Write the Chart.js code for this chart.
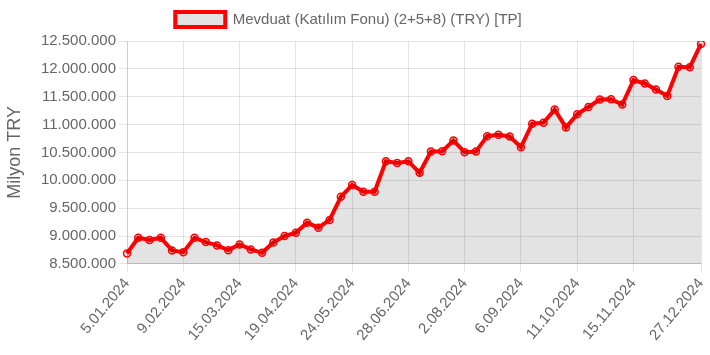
<!DOCTYPE html>
<html>
<head>
<meta charset="utf-8">
<script src="https://cdn.jsdelivr.net/npm/chart.js@4/dist/chart.umd.min.js"></script>
<style>
  html, body { margin: 0; padding: 0; background: #fff; }
  #wrap { width: 710px; height: 355px; }
</style>
</head>
<body>
<div id="wrap"><canvas id="linechart"></canvas></div>
<script>
const labels = [
    '5.01.2024', '12.01.2024', '19.01.2024', '26.01.2024',
    '2.02.2024', '9.02.2024', '16.02.2024', '23.02.2024',
    '1.03.2024', '8.03.2024', '15.03.2024', '22.03.2024', '29.03.2024',
    '5.04.2024', '12.04.2024', '19.04.2024', '26.04.2024',
    '3.05.2024', '10.05.2024', '17.05.2024', '24.05.2024', '31.05.2024',
    '7.06.2024', '14.06.2024', '21.06.2024', '28.06.2024',
    '5.07.2024', '12.07.2024', '19.07.2024', '26.07.2024',
    '2.08.2024', '9.08.2024', '16.08.2024', '23.08.2024', '30.08.2024',
    '6.09.2024', '13.09.2024', '20.09.2024', '27.09.2024',
    '4.10.2024', '11.10.2024', '18.10.2024', '25.10.2024',
    '1.11.2024', '8.11.2024', '15.11.2024', '22.11.2024', '29.11.2024',
    '6.12.2024', '13.12.2024', '20.12.2024', '27.12.2024'
];

const data = [
    8688000, 8969000, 8928000, 8969000, 8742000, 8711000, 8969000, 8892000,
    8832000, 8747000, 8850000, 8760000, 8699000, 8885000, 9000000, 9060000,
    9240000, 9150000, 9289000, 9704000, 9915000, 9794000, 9794000, 10341000,
    10312000, 10341000, 10135000, 10516000, 10520000, 10715000, 10504000, 10516000,
    10792000, 10818000, 10787000, 10594000, 11016000, 11034000, 11269000, 10950000,
    11184000, 11316000, 11450000, 11455000, 11359000, 11798000, 11738000, 11630000,
    11515000, 12038000, 12027000, 12448000
];

const seriesName = 'Mevduat (Katılım Fonu) (2+5+8) (TRY) [TP]';
const yTitle = 'Milyon TRY';
const yMin = 8500000;
const yMax = 12500000;
const yStep = 500000;

// which x labels are drawn: every 5th week, plus the last one
const shownTicks = labels.map((l, i) => (i % 5 === 0 && i < labels.length - 5) || i === labels.length - 1);

const font = "Arial, 'Liberation Sans', Helvetica, sans-serif";
const grey = '#666';

// a bit more room under the legend, and nudge it left a little
const legendTweak = {
    id: 'legendTweak',
    beforeInit(chart) {
        const fit = chart.legend.fit;
        chart.legend.fit = function () {
            fit.bind(chart.legend)();
            this.height += 4;
        };
    },
    afterLayout(chart) {
        chart.legend.left -= 2;
        chart.legend.right -= 2;
    }
};

const ctx = document.getElementById('linechart').getContext('2d');
const myChart = new Chart(ctx, {
    type: 'line',
    data: {
        labels: labels,
        datasets: [{
            label: seriesName,
            data: data,
            borderColor: '#ff0000',
            backgroundColor: 'rgba(0,0,0,0.11)',
            borderWidth: 4,
            fill: true,
            tension: 0,
            pointRadius: 3.5,
            pointBorderWidth: 1.5,
            pointBorderColor: '#ff0000',
            pointBackgroundColor: 'rgba(0,0,0,0.1)'
        }]
    },
    plugins: [legendTweak],
    options: {
        responsive: true,
        maintainAspectRatio: false,
        animation: false,
        layout: {
            padding: { left: 0, right: 9, top: 2, bottom: 8 }
        },
        plugins: {
            legend: {
                display: true,
                labels: {
                    color: grey,
                    boxWidth: 50,
                    boxHeight: 15,
                    padding: 10,
                    font: { family: font, size: 15 }
                }
            },
            tooltip: { enabled: false }
        },
        scales: {
            x: {
                afterBuildTicks: function (scale) {
                    scale.ticks = scale.ticks.filter(t => shownTicks[t.value]);
                },
                afterFit: function (scale) {
                    scale.paddingRight = 0;
                },
                ticks: {
                    autoSkip: false,
                    minRotation: 50,
                    maxRotation: 50,
                    color: grey,
                    font: { family: font, size: 15 }
                },
                grid: { color: 'rgba(0,0,0,0.1)' }
            },
            y: {
                min: yMin,
                max: yMax,
                afterFit: function (scale) {
                    scale.width = 127;
                },
                ticks: {
                    stepSize: yStep,
                    color: grey,
                    font: { family: font, size: 15 },
                    callback: v => v.toLocaleString('de-DE')
                },
                grid: { color: 'rgba(0,0,0,0.1)' },
                title: {
                    display: true,
                    text: yTitle,
                    color: grey,
                    font: { family: font, size: 18 }
                }
            }
        }
    }
});
</script>
</body>
</html>
